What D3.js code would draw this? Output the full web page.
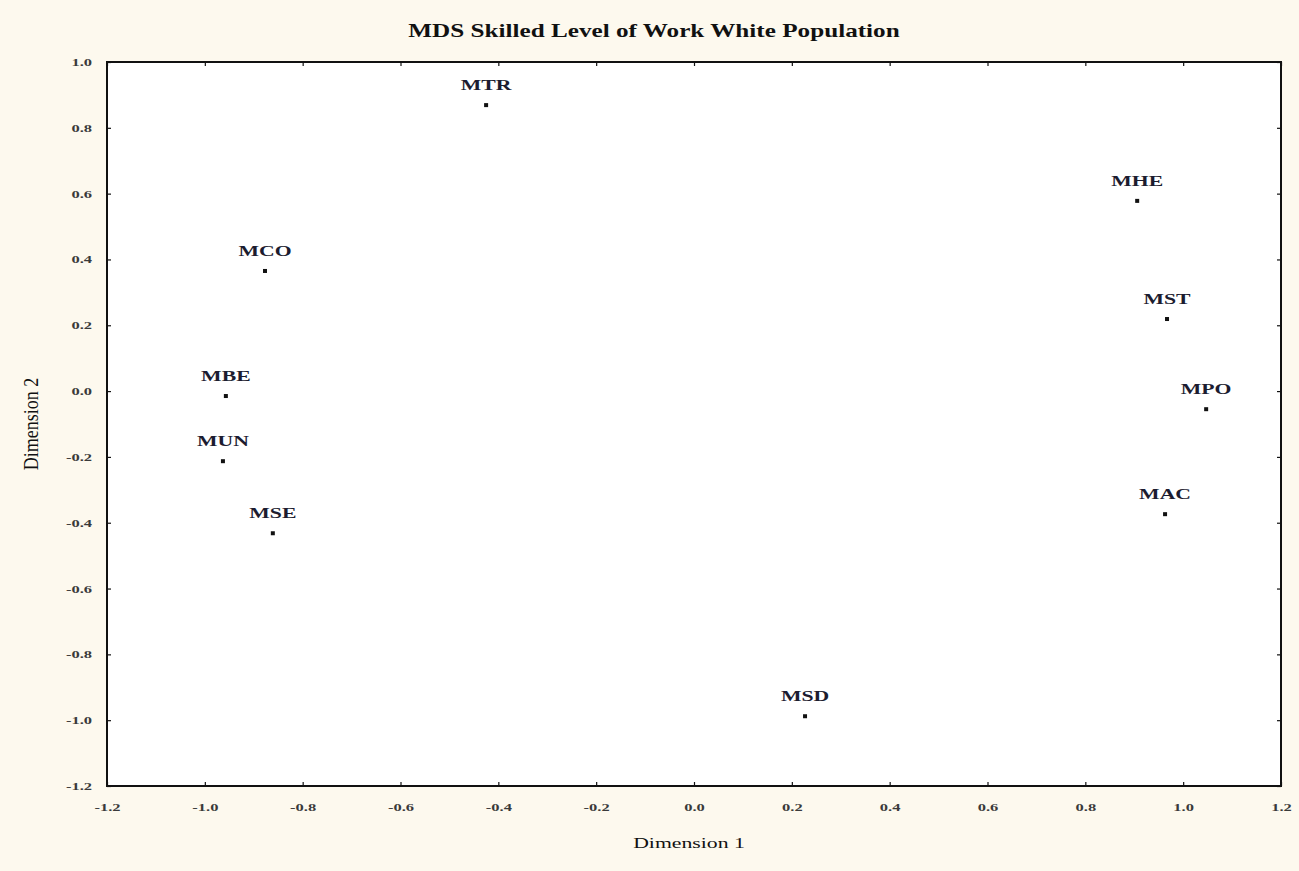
<!DOCTYPE html>
<html>
<head>
<meta charset="utf-8">
<script src="https://cdn.jsdelivr.net/npm/d3@7"></script>
<style>
  body { margin: 0; background: #fdf9ee; }
  svg { display: block; }
  .tick text { font-family: 'Liberation Serif', serif; font-weight: bold; font-size: 11px; fill: #3a3a3a; }
</style>
</head>
<body>
<svg></svg>
<script>
// MDS coordinates
var labels = ['MTR', 'MHE', 'MCO', 'MST', 'MBE', 'MPO', 'MUN', 'MAC', 'MSE', 'MSD'];
var dim1 = [-0.425, 0.906, -0.877, 0.967, -0.957, 1.047, -0.963, 0.963, -0.861, 0.227];
var dim2 = [0.869, 0.578, 0.365, 0.219, -0.015, -0.055, -0.213, -0.374, -0.432, -0.988];
var ticks = [-1.2, -1.0, -0.8, -0.6, -0.4, -0.2, 0.0, 0.2, 0.4, 0.6, 0.8, 1.0, 1.2];
var yTicks = [1.0, 0.8, 0.6, 0.4, 0.2, 0.0, -0.2, -0.4, -0.6, -0.8, -1.0, -1.2];

var svgWidth = 1299,
    svgHeight = 871;
var margin = {top: 62, right: 18, bottom: 85, left: 107};
var width = svgWidth - margin.left - margin.right;
var height = svgHeight - margin.top - margin.bottom;
var stretch = 1.45; // the original's text is wide

var svg = d3.select('svg')
    .attr('width', svgWidth)
    .attr('height', svgHeight);

var x = d3.scaleLinear().domain([-1.2, 1.2]).range([0, width]);
var y = d3.scaleLinear().domain([-1.2, 1.0]).range([height, 0]);

var g = svg.append('g')
    .attr('transform', 'translate(' + margin.left + ',' + margin.top + ')');

g.append('rect')
    .attr('width', width)
    .attr('height', height)
    .attr('fill', '#fff');

var fmt = function (d) { return d3.format('.1f')(d).replace('\u2212', '-'); };

// bottom / left axes with inward ticks
var xAxis = g.append('g')
    .attr('transform', 'translate(0,' + height + ')')
    .call(d3.axisBottom(x).tickValues(ticks).tickFormat(fmt).tickSize(-4).tickPadding(17));
var yAxis = g.append('g')
    .call(d3.axisLeft(y).tickValues(yTicks).tickFormat(fmt).tickSize(-4));
// top / right ticks
g.append('g')
    .call(d3.axisTop(x).tickValues(ticks).tickFormat('').tickSize(-4));
g.append('g')
    .attr('transform', 'translate(' + width + ',0)')
    .call(d3.axisRight(y).tickValues(yTicks).tickFormat('').tickSize(-4));

g.selectAll('.domain').remove();
g.selectAll('.tick line').attr('stroke', '#111').attr('stroke-width', 1.2);
xAxis.selectAll('text').attr('transform', 'scale(1.5,1)');
yAxis.selectAll('text')
    .attr('x', -15 / 1.5)
    .attr('dy', '0.32em')
    .attr('transform', 'scale(1.5,1)');

g.append('rect')
    .attr('width', width)
    .attr('height', height)
    .attr('fill', 'none')
    .attr('stroke', '#111')
    .attr('stroke-width', 2);

var data = labels.map(function (d, i) {
    return {name: d, x: dim1[i], y: dim2[i]};
});

g.selectAll('.pt')
    .data(data)
    .enter()
    .append('rect')
    .attr('class', 'pt')
    .attr('x', function (d) { return x(d.x) - 2; })
    .attr('y', function (d) { return y(d.y) - 2; })
    .attr('width', 4)
    .attr('height', 4)
    .attr('fill', '#111');

g.selectAll('.lbl')
    .data(data)
    .enter()
    .append('text')
    .attr('class', 'lbl')
    .attr('transform', function (d) {
        return 'translate(' + x(d.x) + ',' + (y(d.y) - 15) + ') scale(' + stretch + ',1)';
    })
    .attr('text-anchor', 'middle')
    .attr('font-family', 'Liberation Serif, serif')
    .attr('font-weight', 'bold')
    .attr('font-size', 15)
    .attr('fill', '#1c1c30')
    .text(function (d) { return d.name; });

// titles
svg.append('text')
    .attr('transform', 'translate(654,37) scale(1.4,1)')
    .attr('text-anchor', 'middle')
    .attr('font-family', 'Liberation Serif, serif')
    .attr('font-weight', 'bold')
    .attr('font-size', 18)
    .attr('fill', '#111')
    .text('MDS Skilled Level of Work White Population');

svg.append('text')
    .attr('transform', 'translate(' + (margin.left + x(0) - 5) + ',848) scale(' + stretch + ',1)')
    .attr('text-anchor', 'middle')
    .attr('font-family', 'Liberation Serif, serif')
    .attr('font-size', 15)
    .attr('fill', '#111')
    .text('Dimension 1');

svg.append('text')
    .attr('transform', 'translate(38,' + (margin.top + y(-0.1)) + ') rotate(-90) scale(1.2,' + stretch + ')')
    .attr('text-anchor', 'middle')
    .attr('font-family', 'Liberation Serif, serif')
    .attr('font-size', 15)
    .attr('fill', '#111')
    .text('Dimension 2');
</script>
</body>
</html>
